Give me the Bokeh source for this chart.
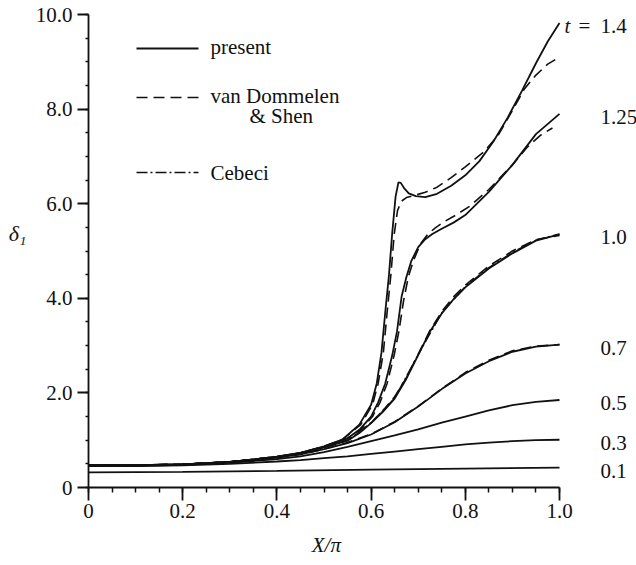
from bokeh.plotting import figure
from bokeh.models import Range1d, FixedTicker, Label, LinearAxis
from bokeh.embed import file_html
from bokeh.resources import INLINE
import numpy as np

# ---- displacement thickness delta_1 versus X/pi, present calculation ----
t_text = ["0.1", "0.3", "0.5", "0.7", "1.0", "1.25", "1.4"]

x_t01 = [0, 0.2, 0.4, 0.6, 0.8, 1.0]
y_t01 = [0.32, 0.33, 0.35, 0.38, 0.40, 0.42]

x_t03 = [0, 0.1, 0.2, 0.3, 0.4, 0.45, 0.5, 0.55, 0.6, 0.65, 0.7, 0.75, 0.8, 0.85, 0.9, 0.95, 1.0]
y_t03 = [0.45, 0.45, 0.47, 0.50, 0.55, 0.58, 0.62, 0.66, 0.71, 0.76, 0.81, 0.86, 0.91, 0.95, 0.98, 1.00, 1.01]

x_t05 = [0, 0.1, 0.2, 0.3, 0.4, 0.45, 0.5, 0.55, 0.6, 0.65, 0.7, 0.75, 0.8, 0.85, 0.9, 0.95, 1.0]
y_t05 = [0.46, 0.46, 0.48, 0.52, 0.60, 0.66, 0.75, 0.86, 0.98, 1.10, 1.23, 1.37, 1.50, 1.63, 1.74, 1.81, 1.85]

x_t07 = [0, 0.1, 0.2, 0.3, 0.4, 0.45, 0.5, 0.55, 0.6, 0.65, 0.7, 0.75, 0.8, 0.85, 0.9, 0.95, 1.0]
y_t07 = [0.47, 0.47, 0.49, 0.54, 0.63, 0.70, 0.81, 0.94, 1.12, 1.38, 1.71, 2.08, 2.41, 2.67, 2.87, 2.98, 3.02]

x_t10 = [0, 0.1, 0.2, 0.3, 0.4, 0.45, 0.5, 0.55, 0.575, 0.6, 0.625, 0.65, 0.675, 0.7,
         0.725, 0.75, 0.775, 0.8, 0.85, 0.9, 0.95, 1.0]
y_t10 = [0.47, 0.47, 0.49, 0.54, 0.64, 0.72, 0.85, 0.99, 1.15, 1.36, 1.60, 1.88, 2.30, 2.80,
         3.30, 3.68, 3.98, 4.23, 4.63, 4.95, 5.22, 5.35]

x_t125 = [0, 0.1, 0.2, 0.3, 0.4, 0.45, 0.5, 0.55, 0.575, 0.6, 0.615, 0.63, 0.645, 0.655,
          0.665, 0.675, 0.685, 0.7, 0.715, 0.73, 0.75, 0.775, 0.8, 0.85, 0.9, 0.95, 1.0]
y_t125 = [0.47, 0.47, 0.49, 0.54, 0.65, 0.73, 0.86, 1.04, 1.22, 1.50, 1.80, 2.20, 2.80, 3.30,
          4.05, 4.45, 4.78, 5.08, 5.25, 5.36, 5.47, 5.60, 5.76, 6.25, 6.82, 7.47, 7.90]

x_t14 = [0, 0.1, 0.2, 0.3, 0.4, 0.45, 0.5, 0.54, 0.575, 0.6, 0.612, 0.622, 0.63, 0.638,
         0.645, 0.652, 0.658, 0.663, 0.67, 0.68, 0.695, 0.715, 0.74, 0.77, 0.8, 0.83,
         0.86, 0.89, 0.92, 0.95, 0.975, 1.0]
y_t14 = [0.47, 0.47, 0.49, 0.54, 0.65, 0.73, 0.87, 1.02, 1.33, 1.75, 2.20, 2.85, 3.70, 4.50,
         5.40, 6.15, 6.45, 6.44, 6.33, 6.22, 6.16, 6.14, 6.21, 6.38, 6.60, 6.90,
         7.32, 7.82, 8.38, 8.97, 9.43, 9.82]

# ---- van Dommelen & Shen ----
x_vds07 = [0, 0.1, 0.2, 0.3, 0.4, 0.45, 0.5, 0.55, 0.6, 0.65, 0.7, 0.75, 0.8, 0.85, 0.9, 0.95, 1.0]
y_vds07 = [0.47, 0.47, 0.49, 0.54, 0.63, 0.70, 0.81, 0.95, 1.13, 1.39, 1.72, 2.09, 2.43, 2.69, 2.89, 2.99, 3.02]

x_vds10 = [0, 0.1, 0.2, 0.3, 0.4, 0.45, 0.5, 0.55, 0.575, 0.6, 0.625, 0.65, 0.675, 0.7,
           0.725, 0.75, 0.775, 0.8, 0.85, 0.9, 0.95, 1.0]
y_vds10 = [0.47, 0.47, 0.49, 0.54, 0.64, 0.72, 0.85, 1.00, 1.16, 1.37, 1.62, 1.92, 2.32, 2.82,
           3.32, 3.72, 4.03, 4.28, 4.68, 5.00, 5.24, 5.33]

x_vds125 = [0, 0.1, 0.2, 0.3, 0.4, 0.45, 0.5, 0.55, 0.578, 0.603, 0.619, 0.634, 0.649, 0.659,
            0.669, 0.679, 0.69, 0.705, 0.72, 0.735, 0.755, 0.78, 0.81, 0.85, 0.9, 0.93, 0.96, 0.985]
y_vds125 = [0.47, 0.47, 0.49, 0.54, 0.65, 0.73, 0.86, 1.04, 1.22, 1.50, 1.80, 2.20, 2.80, 3.30,
            3.95, 4.45, 4.80, 5.15, 5.35, 5.48, 5.62, 5.76, 5.95, 6.30, 6.82, 7.18, 7.45, 7.60]

x_vds14 = [0, 0.1, 0.2, 0.3, 0.4, 0.45, 0.5, 0.54, 0.578, 0.603, 0.615, 0.626, 0.634, 0.642,
           0.649, 0.656, 0.664, 0.675, 0.69, 0.715, 0.74, 0.77, 0.8, 0.84, 0.87, 0.9,
           0.925, 0.95, 0.975, 1.0]
y_vds14 = [0.47, 0.47, 0.49, 0.54, 0.65, 0.73, 0.87, 1.02, 1.33, 1.75, 2.20, 2.85, 3.70, 4.50,
           5.35, 5.85, 6.05, 6.13, 6.17, 6.24, 6.35, 6.55, 6.78, 7.10, 7.45, 7.97,
           8.42, 8.72, 8.95, 9.10]

# ---- Cebeci ----
x_ceb10 = [0.5, 0.55, 0.6, 0.65, 0.7, 0.75, 0.8, 0.85, 0.9, 0.95, 1.0]
y_ceb10 = [0.85, 0.99, 1.37, 1.89, 2.81, 3.69, 4.25, 4.65, 4.97, 5.23, 5.36]

# ---- axes ----
x_ticks = [0, 0.2, 0.4, 0.6, 0.8, 1.0]
x_tick_labels = ["0", "0.2", "0.4", "0.6", "0.8", "1.0"]
y_ticks = [0, 2, 4, 6, 8, 10]
y_tick_labels = ["0", "2.0", "4.0", "6.0", "8.0", "10.0"]

present = [(x_t01, y_t01), (x_t03, y_t03), (x_t05, y_t05), (x_t07, y_t07),
           (x_t10, y_t10), (x_t125, y_t125), (x_t14, y_t14)]
vds = [(x_vds07, y_vds07), (x_vds10, y_vds10), (x_vds125, y_vds125), (x_vds14, y_vds14)]
cebeci = [(x_ceb10, y_ceb10)]

W, H = 636, 565
LEFT, TOP, BOTTOM = 88, 14, 78
AXIS_W = 471                      # pixel length of the X/pi = 0..1 axis
FW, FH = W - LEFT, H - TOP - BOTTOM
X0, X1, Y0, Y1 = 0.0, 1.0, 0.0, 10.0
X_END = X0 + FW / AXIS_W * (X1 - X0)   # frame runs on past x = 1 to hold the t labels

FONT = "Liberation Serif"
INK = "#111111"
DASH = "11 6"
DASHDOT = "11 3 2 3"
FS = "21px"


def fx(px):
    """canvas pixel column -> data x"""
    return X0 + (px - LEFT) / AXIS_W * (X1 - X0)


def fy(py):
    """canvas pixel row -> data y"""
    return Y0 + (H - BOTTOM - py) / FH * (Y1 - Y0)


p = figure(width=W, height=H, x_range=Range1d(X0, X_END), y_range=Range1d(Y0, Y1),
           output_backend="svg", toolbar_location=None, title=None,
           min_border_left=LEFT, min_border_right=0,
           min_border_top=TOP, min_border_bottom=BOTTOM)
p.outline_line_color = None
p.xgrid.visible = False
p.ygrid.visible = False
p.background_fill_color = "white"
p.border_fill_color = "white"

for xs, ys in present:
    p.line(xs, ys, line_color=INK, line_width=1.8)
for xs, ys in vds:
    p.line(xs, ys, line_color=INK, line_width=1.6, line_dash=DASH)
for xs, ys in cebeci:
    p.line(xs, ys, line_color=INK, line_width=1.4, line_dash=DASHDOT)

# axes
p.xaxis.bounds = (X0, X1)
p.xaxis.ticker = FixedTicker(ticks=x_ticks, minor_ticks=list(np.round(np.arange(0, 1.0001, 0.05), 3)))
p.xaxis.major_label_overrides = dict(zip(x_ticks, x_tick_labels))
p.yaxis.ticker = FixedTicker(ticks=y_ticks, minor_ticks=list(np.arange(0, 10.01, 0.5)))
p.yaxis.major_label_overrides = dict(zip(y_ticks, y_tick_labels))
for ax in (p.xaxis, p.yaxis):
    ax.axis_line_color = INK
    ax.axis_line_width = 1.8
    ax.major_tick_line_color = INK
    ax.major_tick_line_width = 1.8
    ax.minor_tick_line_color = INK
    ax.minor_tick_line_width = 1.5
    ax.major_tick_in = 0
    ax.minor_tick_in = 0
    ax.major_label_text_font = FONT
    ax.major_label_text_font_size = FS
    ax.major_label_text_color = INK
p.xaxis.major_tick_out = 13
p.xaxis.minor_tick_out = 5
p.xaxis.major_label_standoff = 3
p.yaxis.major_tick_out = 11
p.yaxis.minor_tick_out = 3
p.yaxis.major_label_standoff = 5


def title_axis(side, pos, text, size, standoff, style="italic"):
    """bare axis carrying one label: used for the axis titles"""
    ax = LinearAxis(ticker=FixedTicker(ticks=[pos], minor_ticks=[]),
                    major_label_overrides={pos: text},
                    axis_line_color=None, major_tick_line_color=None,
                    minor_tick_line_color=None, major_tick_out=0, major_tick_in=0,
                    major_label_standoff=standoff, major_label_text_font=FONT,
                    major_label_text_font_size=size, major_label_text_font_style=style,
                    major_label_text_color=INK)
    p.add_layout(ax, side)


title_axis("left", round(fy(233), 3), "δ₁", "22px", 6)
title_axis("below", round(fx(326), 3), "X/π", "21px", 12)


def add_text(text, x, y, size=FS, style="normal", x_off=0, y_off=0):
    p.add_layout(Label(x=x, y=y, x_offset=x_off, y_offset=y_off, text=text,
                       text_font=FONT, text_font_size=size, text_font_style=style,
                       text_color=INK, text_align="left", text_baseline="middle"))


# time labels beside the end of each curve
for (xs, ys), lab in zip(present, t_text):
    add_text(lab, xs[-1], ys[-1], x_off=41, y_off=-3)
add_text("t", x_t14[-1], y_t14[-1], style="italic", x_off=5, y_off=-3)
add_text("=", x_t14[-1], y_t14[-1], x_off=19, y_off=-3)

# key
key_x = [fx(136), fx(198)]
p.line(key_x, [fy(48)] * 2, line_color=INK, line_width=1.8)
p.line(key_x, [fy(97)] * 2, line_color=INK, line_width=1.6, line_dash=DASH)
p.line(key_x, [fy(172)] * 2, line_color=INK, line_width=1.4, line_dash=DASHDOT)
add_text("present", fx(210), fy(46))
add_text("van Dommelen", fx(210), fy(95))
add_text("& Shen", fx(249), fy(115))
add_text("Cebeci", fx(210), fy(172))

open("out.html", "w").write(file_html(p, INLINE))
